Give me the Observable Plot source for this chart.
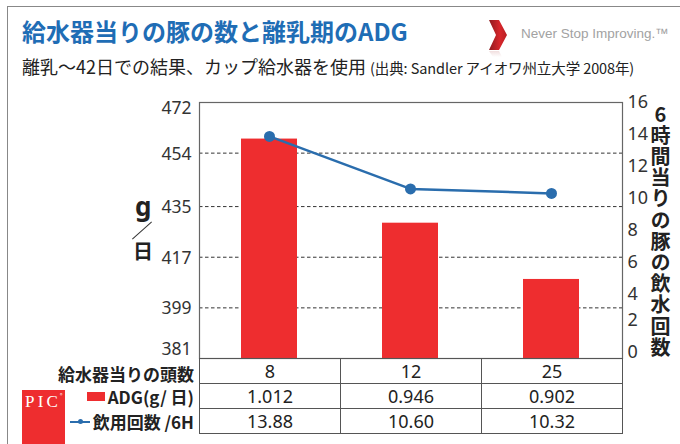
<!DOCTYPE html>
<html>
<head>
<meta charset="utf-8">
<script src="https://cdn.jsdelivr.net/npm/d3@7"></script>
<script src="https://cdn.jsdelivr.net/npm/@observablehq/plot@0.6"></script>
<style>
  html, body { margin: 0; padding: 0; background: #fff; }
  #wrap { position: relative; width: 680px; height: 444px; overflow: hidden; background: #fff;
          font-family: "Noto Sans CJK JP", "Noto Sans", sans-serif; color: #222; }
  #wrap svg.plot { position: absolute; left: 0; top: 0; }
  .abs { position: absolute; line-height: 1; white-space: nowrap; }
  #border { left: 7px; top: 6px; width: 700px; height: 460px; border-top: 1.5px solid #888; border-left: 1.5px solid #888; }
  #title { left: 22px; top: 19px; font-size: 24px; font-weight: 700; color: #1f6db5; }
  #subtitle { left: 22px; top: 57px; font-size: 18px; color: #222; }
  #subtitle small { font-size: 14.5px; letter-spacing: -0.1px; }
  #nsi { left: 521px; top: 27px; font-family: "Liberation Sans", Arial, sans-serif; font-size: 13.5px; color: #a2a2a2; }
  #yl-g { left: 135px; top: 193px; font-family: "Noto Sans", sans-serif; font-size: 26px; font-weight: 700; color: #222; }
  #yl-slash { left: 129px; top: 230px; width: 26px; height: 0; border-top: 1.3px solid #333; transform: rotate(-42deg); }
  #yl-day { left: 133px; top: 241px; font-size: 20px; font-weight: 700; color: #222; }
  #y2title { left: 650px; top: 104px; font-size: 20px; font-weight: 700; color: #222;
             writing-mode: vertical-rl; text-orientation: upright; letter-spacing: 1.2px; }
  #table { left: 199px; top: 358px; display: grid; grid-template-columns: repeat(3, 141px);
           grid-auto-rows: 25px; border-top: 1px solid #555; border-left: 1px solid #555; }
  #table div { border-right: 1px solid #555; border-bottom: 1px solid #555; display: flex;
               align-items: center; justify-content: center; font-family: "Noto Sans", sans-serif;
               font-size: 18px; color: #222; }
  #rowlabels { left: 0; top: 359px; width: 194px; display: grid; grid-auto-rows: 25px; }
  #rowlabels div { display: flex; align-items: center; justify-content: flex-end; font-size: 17px; font-weight: 700; color: #222; }
  #rowlabels div:first-child { height: 22px; align-self: end; }
  .sw { display: inline-block; width: 18px; height: 9px; background: #ee2d2f; margin-right: 3px; }
  .ln { display: inline-block; position: relative; width: 20px; height: 2px; background: #2a6dad; margin-right: 3px; }
  .ln::after { content: ""; position: absolute; left: 8px; top: -1.5px; width: 5px; height: 5px; border-radius: 50%; background: #2a6dad; }
  #pic { left: 22px; top: 390px; width: 43px; height: 60px; background: #ee2d2f; }
  #pic span { position: absolute; left: 3px; top: 3px; font-family: "Liberation Serif", "DejaVu Serif", serif;
              font-size: 17px; color: #fff; letter-spacing: 3.2px; line-height: 1; }
  #pic sup { position: absolute; left: 38px; top: 2px; font-size: 5px; color: #fff; }
</style>
</head>
<body>
<div id="wrap"></div>
<script>
// ---- data ----
const heads = ["8", "12", "25"];                 // pigs per drinker
const adgGrams = [459.0, 429.1, 409.1];          // ADG in g/day (bar heights)
const adgLabels = ["1.012", "0.946", "0.902"];   // table text (lb/day)
const drinks = [13.88, 10.60, 10.32];            // drinks per 6h
const drinkLabels = ["13.88", "10.60", "10.32"];
const leftTicks = [381, 399, 417, 435, 454, 472];
const gridTicks = [399, 417, 435, 454];
const rightTicks = [0, 2, 4, 6, 8, 10, 12, 14, 16];

const titleText = "給水器当りの豚の数と離乳期のADG";
const subtitleText = "離乳～42日での結果、カップ給水器を使用";
const sourceText = "(出典: Sandler アイオワ州立大学 2008年)";
const rowLabelTexts = ["給水器当りの頭数", "ADG(g/ 日)", "飲用回数 /6H"];
const y2TitleText = "6時間当りの豚の飲水回数";

// map right axis (0–16) onto left axis domain (381–472)
const toY = d3.scaleLinear([0, 16], [381, 472]);
const data = heads.map((h, i) => ({heads: h, adg: adgGrams[i], drink: toY(drinks[i])}));

const leftOpts = {anchor: "left", tickSize: 0, tickPadding: 8, fontSize: 17.5, label: null};
const rightOpts = {anchor: "right", tickSize: 0, tickPadding: 5, fontSize: 18, label: null,
  tickFormat: d => String(Math.round(toY.invert(d)))};

const chart = Plot.plot({
  width: 680, height: 444,
  marginTop: 102, marginBottom: 86, marginLeft: 199, marginRight: 58,
  style: {fontFamily: "'Noto Sans', sans-serif", fontSize: "18px", color: "#333", background: "transparent"},
  x: {domain: heads, paddingInner: 0.6, paddingOuter: 0.3, axis: null},
  y: {domain: [381, 472], axis: null},
  marks: [
    Plot.ruleY(gridTicks, {stroke: "#333", strokeDasharray: "3.5,2.5", strokeWidth: 1}),
    Plot.barY(data, {x: "heads", y1: 381, y2: "adg", fill: "#ee2d2f"}),
    Plot.line(data, {x: "heads", y: "drink", stroke: "#2a6dad", strokeWidth: 2.5}),
    Plot.dot(data, {x: "heads", y: "drink", r: 5.5, fill: "#2a6dad"}),
    Plot.axisY(leftTicks.slice(1, 5), {...leftOpts, dy: 1}),
    Plot.axisY(leftTicks.slice(5), {...leftOpts, dy: 6}),
    Plot.axisY(leftTicks.slice(0, 1), {...leftOpts, dy: -9}),
    Plot.axisY(rightTicks.slice(2).map(toY), rightOpts),
    Plot.axisY(rightTicks.slice(0, 2).map(toY), {...rightOpts, dy: -6}),
    Plot.frame({stroke: "#666", strokeWidth: 1.2})
  ]
});

const wrap = document.getElementById("wrap");
wrap.appendChild(chart);

function add(id, html, tag = "div") {
  const el = document.createElement(tag);
  el.id = id; el.className = "abs"; el.innerHTML = html;
  wrap.appendChild(el);
  return el;
}
add("border", "");
add("title", titleText);
add("subtitle", subtitleText + " <small>" + sourceText + "</small>");
add("nsi", "Never Stop Improving.™");
// chevron logo
const ns = "http://www.w3.org/2000/svg";
const logo = document.createElementNS(ns, "svg");
logo.setAttribute("width", "30"); logo.setAttribute("height", "45");
logo.style.position = "absolute"; logo.style.left = "485px"; logo.style.top = "18px";
logo.innerHTML = `<defs><linearGradient id="cg" x1="0" x2="1" y1="0" y2="0">
  <stop offset="0" stop-color="#8e1b1f"/><stop offset="0.6" stop-color="#d8262b"/><stop offset="1" stop-color="#b71f24"/></linearGradient>
  <linearGradient id="rg" x1="0" x2="0" y1="0" y2="1"><stop offset="0" stop-color="#e8c8c8"/><stop offset="1" stop-color="#fff"/></linearGradient></defs>
  <polygon points="4,2 14,2 22,17 14,32 4,32 11,17" fill="url(#cg)"/>
  <polygon points="4,33 14,33 17,39 8,39" fill="url(#rg)" opacity="0.6"/>`;
wrap.appendChild(logo);

add("yl-g", "g");
add("yl-slash", "");
add("yl-day", "日");
add("y2title", y2TitleText);

// table
const table = add("table", "");
[heads, adgLabels, drinkLabels].forEach(row => row.forEach(v => {
  const c = document.createElement("div"); c.textContent = v; table.appendChild(c);
}));
const rl = add("rowlabels", "");
rowLabelTexts.forEach((t, i) => {
  const c = document.createElement("div");
  c.innerHTML = (i === 1 ? '<span class="sw"></span>' : i === 2 ? '<span class="ln"></span>' : "") + t;
  rl.appendChild(c);
});
add("pic", '<span>PIC</span><sup>®</sup>');
</script>
</body>
</html>
